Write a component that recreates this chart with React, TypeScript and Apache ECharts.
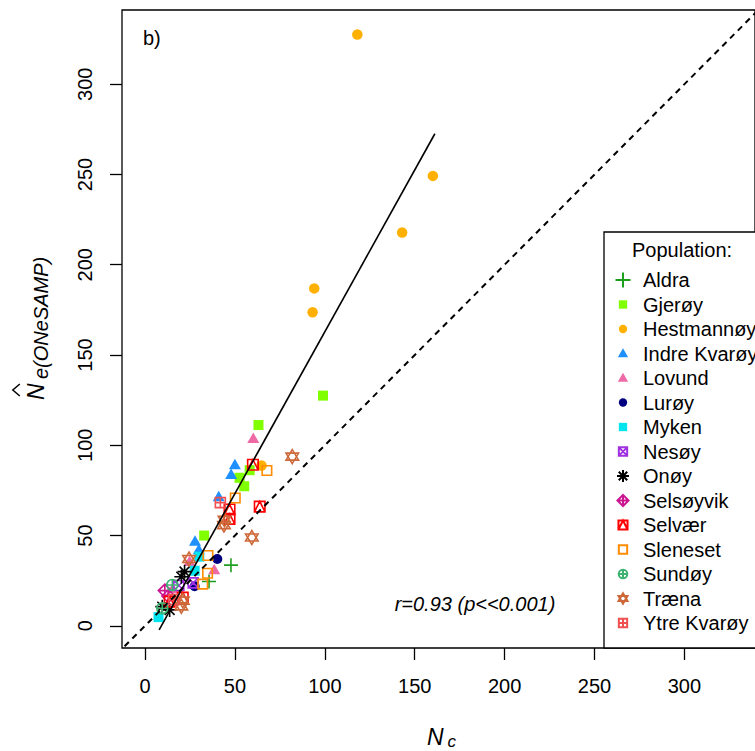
import React, { useEffect, useRef } from "react";
import * as echarts from "echarts";

const FONT = "'Liberation Sans', Arial, Helvetica, sans-serif";

// Axis tick labels
const X_TICKS = [0, 50, 100, 150, 200, 250, 300];
const Y_TICKS = [0, 50, 100, 150, 200, 250, 300];

// Populations (legend order)
const POPULATIONS = [
  "Aldra", "Gjerøy", "Hestmannøy", "Indre Kvarøy", "Lovund", "Lurøy", "Myken", "Nesøy",
  "Onøy", "Selsøyvik", "Selvær", "Sleneset", "Sundøy", "Træna", "Ytre Kvarøy",
];

// [Nc, Ne(ONeSAMP)] samples per population
const ALDRA = [[47.8, 33.6], [35.6, 24.5]];
const GJEROY = [[99.0, 127.5], [63.1, 111.2], [58.2, 86.2], [55.2, 77.3], [52.6, 82.0], [32.9, 50.0]];
const HESTMANNOY = [[118.1, 327.5], [160.1, 249.2], [143.0, 217.9], [94.1, 186.9], [93.2, 173.7], [64.8, 88.8]];
const INDRE_KVAROY = [[50.0, 89.6], [47.9, 84.2], [41.0, 71.9], [27.8, 47.3], [29.9, 42.5]];
const LOVUND = [[60.2, 104.2], [38.5, 31.4], [24.8, 36.0], [15.4, 21.0]];
const LUROY = [[40.2, 37.0], [27.6, 21.9]];
const MYKEN = [[7.5, 4.8], [27.6, 30.5], [30.2, 38.3]];
const NESOY = [[26.8, 23.8], [18.8, 22.3]];
const ONOY = [[22.0, 30.0], [20.2, 27.2], [9.6, 10.6], [13.7, 8.8]];
const SELSOYVIK = [[13.0, 16.5], [11.0, 19.5]];
const SELVAER = [[60.0, 89.2], [63.8, 66.0], [47.0, 64.4], [47.0, 59.2], [21.0, 15.6], [13.7, 13.4]];
const SLENESET = [[67.8, 86.0], [50.2, 70.8], [35.0, 38.9], [34.8, 29.1], [32.1, 23.1]];
const SUNDOY = [[15.2, 22.6], [9.6, 9.7]];
const TRAENA = [[81.9, 93.7], [59.4, 48.9], [43.9, 55.8], [44.2, 58.7], [24.5, 37.0], [21.0, 13.9], [20.2, 10.8]];
const YTRE_KVAROY = [[41.9, 68.2], [16.0, 14.5]];

const POP_DATA = [
  ALDRA, GJEROY, HESTMANNOY, INDRE_KVAROY, LOVUND, LUROY, MYKEN, NESOY,
  ONOY, SELSOYVIK, SELVAER, SLENESET, SUNDOY, TRAENA, YTRE_KVAROY,
];

// Fitted regression line Ne = a + b * Nc over the observed Nc range
const FIT_INTERCEPT = -16.4;
const FIT_SLOPE = 1.7925;
const FIT_NC_RANGE = [7.86, 161.2];
// 1:1 reference line
const IDENTITY_RANGE = [-20, 360];

const R_LABEL = "r=0.93 (p<<0.001)";
const PANEL_LABEL = "b)";
const LEGEND_TITLE = "Population:";

// Symbol shapes (R pch look-alikes)
const SQ = "M-1,-1L1,-1L1,1L-1,1Z";
const CIRC = "M-1,0A1,1 0 1,1 1,0A1,1 0 1,1 -1,0Z";
const TRI = "M0,-1L1,0.732L-1,0.732Z";
const PLUS = "M0,-1L0,1M-1,0L1,0";
const CROSS = "M-1,-1L1,1M1,-1L-1,1";
const DIAMOND = "M0,-1L1,0L0,1L-1,0Z";
const ASTER = PLUS + "M-0.707,-0.707L0.707,0.707M0.707,-0.707L-0.707,0.707";
const STAR = "M0,-1L0.866,0.5L-0.866,0.5ZM0,1L0.866,-0.5L-0.866,-0.5Z";
const SQTRI = SQ + "M-1,1L0,-1L1,1";

// legend icon padding (invisible move-to points that enlarge the icon's box)
const pad = (p: number) => `M${-p},${-p}M${p},${p}`;

const STYLES = [
  { color: "#1E9E1E", path: PLUS, fill: false, size: [14, 14], lp: 1 },
  { color: "#7FFF00", path: SQ, fill: true, size: [10, 10], lp: 1.8 },
  { color: "#FFB000", path: CIRC, fill: true, size: [10.5, 10.5], lp: 1.8 },
  { color: "#1E90FF", path: TRI, fill: true, size: [12, 10.5], lp: 1.45 },
  { color: "#EE6AA7", path: TRI, fill: true, size: [12, 10.5], lp: 1.45 },
  { color: "#000080", path: CIRC, fill: true, size: [10, 10], lp: 1.8 },
  { color: "#00E5EE", path: SQ, fill: true, size: [10, 10], lp: 1.8 },
  { color: "#A030E0", path: SQ + CROSS, fill: false, size: [10, 10], lp: 1.8 },
  { color: "#000000", path: ASTER, fill: false, size: [14, 14], lp: 1.25 },
  { color: "#CC1690", path: DIAMOND + PLUS, fill: false, size: [13, 13], lp: 1.35 },
  { color: "#FF0000", path: SQTRI, fill: false, size: [10.5, 10.5], lp: 1.65 },
  { color: "#FF8C00", path: SQ, fill: false, size: [9.5, 9.5], lp: 1.8 },
  { color: "#3CB371", path: CIRC + PLUS, fill: false, size: [11, 11], lp: 1.75 },
  { color: "#CD6839", path: STAR, fill: false, size: [12.5, 14], lp: 1.45 },
  { color: "#F05050", path: SQ + PLUS, fill: false, size: [10, 10], lp: 1.8 },
];

export default function App() {
  const ref = useRef<HTMLDivElement>(null);

  useEffect(() => {
    const chart = echarts.init(ref.current!, null, { renderer: "svg" });

    const scatterSeries = POPULATIONS.map((name, i) => {
      const st = STYLES[i];
      return {
        type: "scatter",
        name,
        data: POP_DATA[i],
        symbol: "path://" + st.path,
        symbolSize: st.size,
        silent: true,
        itemStyle: st.fill
          ? { color: st.color, borderWidth: 0, opacity: 1 }
          : { color: "rgba(0,0,0,0)", borderColor: st.color, borderWidth: 1.6, opacity: 1 },
        emphasis: { disabled: true },
      };
    });

    const fitLine = {
      type: "line",
      name: "fit",
      data: FIT_NC_RANGE.map((x) => [x, FIT_INTERCEPT + FIT_SLOPE * x]),
      symbol: "none",
      silent: true,
      lineStyle: { color: "#000", width: 1.6 },
      z: 5,
    };
    const idLine = {
      type: "line",
      name: "1:1",
      data: IDENTITY_RANGE.map((v) => [v, v]),
      symbol: "none",
      silent: true,
      clip: true,
      lineStyle: { color: "#000", width: 2, type: [6, 5] },
      z: 5,
    };

    const option: any = {
      animation: false,
      backgroundColor: "#fff",
      grid: {
        left: 122,
        top: 10,
        width: 635,
        height: 638,
        show: true,
        borderColor: "#000",
        borderWidth: 1.3,
        containLabel: false,
      },
      xAxis: {
        type: "value",
        min: -12.8,
        max: 339.25,
        splitLine: { show: false },
        axisLine: { show: false, onZero: false },
        axisTick: { show: true, length: 12, lineStyle: { color: "#000", width: 1.3 }, customValues: X_TICKS },
        axisLabel: { customValues: X_TICKS, fontSize: 20, color: "#000", fontFamily: FONT, margin: 28 },
      },
      yAxis: {
        type: "value",
        min: -12.3,
        max: 341.1,
        splitLine: { show: false },
        axisLine: { show: false, onZero: false },
        axisTick: { show: true, length: 12, lineStyle: { color: "#000", width: 1.3 }, customValues: Y_TICKS },
        axisLabel: { customValues: Y_TICKS, fontSize: 20, color: "#000", fontFamily: FONT, margin: 27, rotate: 90 },
      },
      legend: {
        orient: "vertical",
        left: 614.5,
        top: 270,
        padding: 0,
        itemWidth: 30,
        itemHeight: 15,
        itemGap: 4.5,
        selectedMode: false,
        data: POPULATIONS.map((name, i) => ({
          name,
          icon: "path://" + pad(STYLES[i].lp) + STYLES[i].path,
        })),
        textStyle: { fontSize: 20, color: "#000", fontFamily: FONT, lineHeight: 20, width: 100, overflow: "none" },
        z: 10,
      },
      graphic: [
        {
          type: "rect",
          z: 8,
          shape: { x: 604, y: 232, width: 200, height: 416 },
          style: { fill: "#fff", stroke: "#000", lineWidth: 1.3 },
        },
        {
          type: "text",
          z: 9,
          x: 632,
          y: 250,
          style: { text: LEGEND_TITLE, fontSize: 20, fontFamily: FONT, fill: "#000", align: "left", verticalAlign: "middle" },
        },
        {
          type: "text",
          x: 143,
          y: 38,
          style: { text: PANEL_LABEL, fontSize: 20, fontFamily: FONT, fill: "#000", align: "left", verticalAlign: "middle" },
        },
        {
          type: "text",
          x: 475,
          y: 604,
          style: { text: R_LABEL, fontSize: 20, fontStyle: "italic", fontFamily: FONT, fill: "#000", align: "center", verticalAlign: "middle" },
        },
        {
          type: "text",
          x: 427,
          y: 737,
          style: { text: "N", fontSize: 23, fontStyle: "italic", fontFamily: FONT, fill: "#000", align: "left", verticalAlign: "middle" },
        },
        {
          type: "text",
          x: 447.5,
          y: 741.5,
          style: { text: "c", fontSize: 17, fontStyle: "italic", fontFamily: FONT, fill: "#000", align: "left", verticalAlign: "middle" },
        },
        {
          type: "group",
          x: 35.8,
          y: 400,
          rotation: Math.PI / 2,
          children: [
            {
              type: "text",
              x: 0,
              y: 0,
              style: { text: "N", fontSize: 23, fontStyle: "italic", fontFamily: FONT, fill: "#000", align: "left", verticalAlign: "middle" },
            },
            {
              type: "polyline",
              shape: { points: [[4, -16], [10, -23], [16, -16]] },
              style: { stroke: "#000", lineWidth: 1.5, fill: "none" },
            },
            {
              type: "text",
              x: 21,
              y: 5,
              style: { text: "e(ONeSAMP)", fontSize: 20, fontStyle: "italic", fontFamily: FONT, fill: "#000", align: "left", verticalAlign: "middle" },
            },
          ],
        },
      ],
      series: [...scatterSeries, fitLine, idLine],
    };

    chart.setOption(option);
    return () => chart.dispose();
  }, []);

  return (
    <div
      ref={ref}
      style={{ position: "fixed", left: 0, top: 0, width: 755, height: 751, background: "#fff" }}
    />
  );
}
